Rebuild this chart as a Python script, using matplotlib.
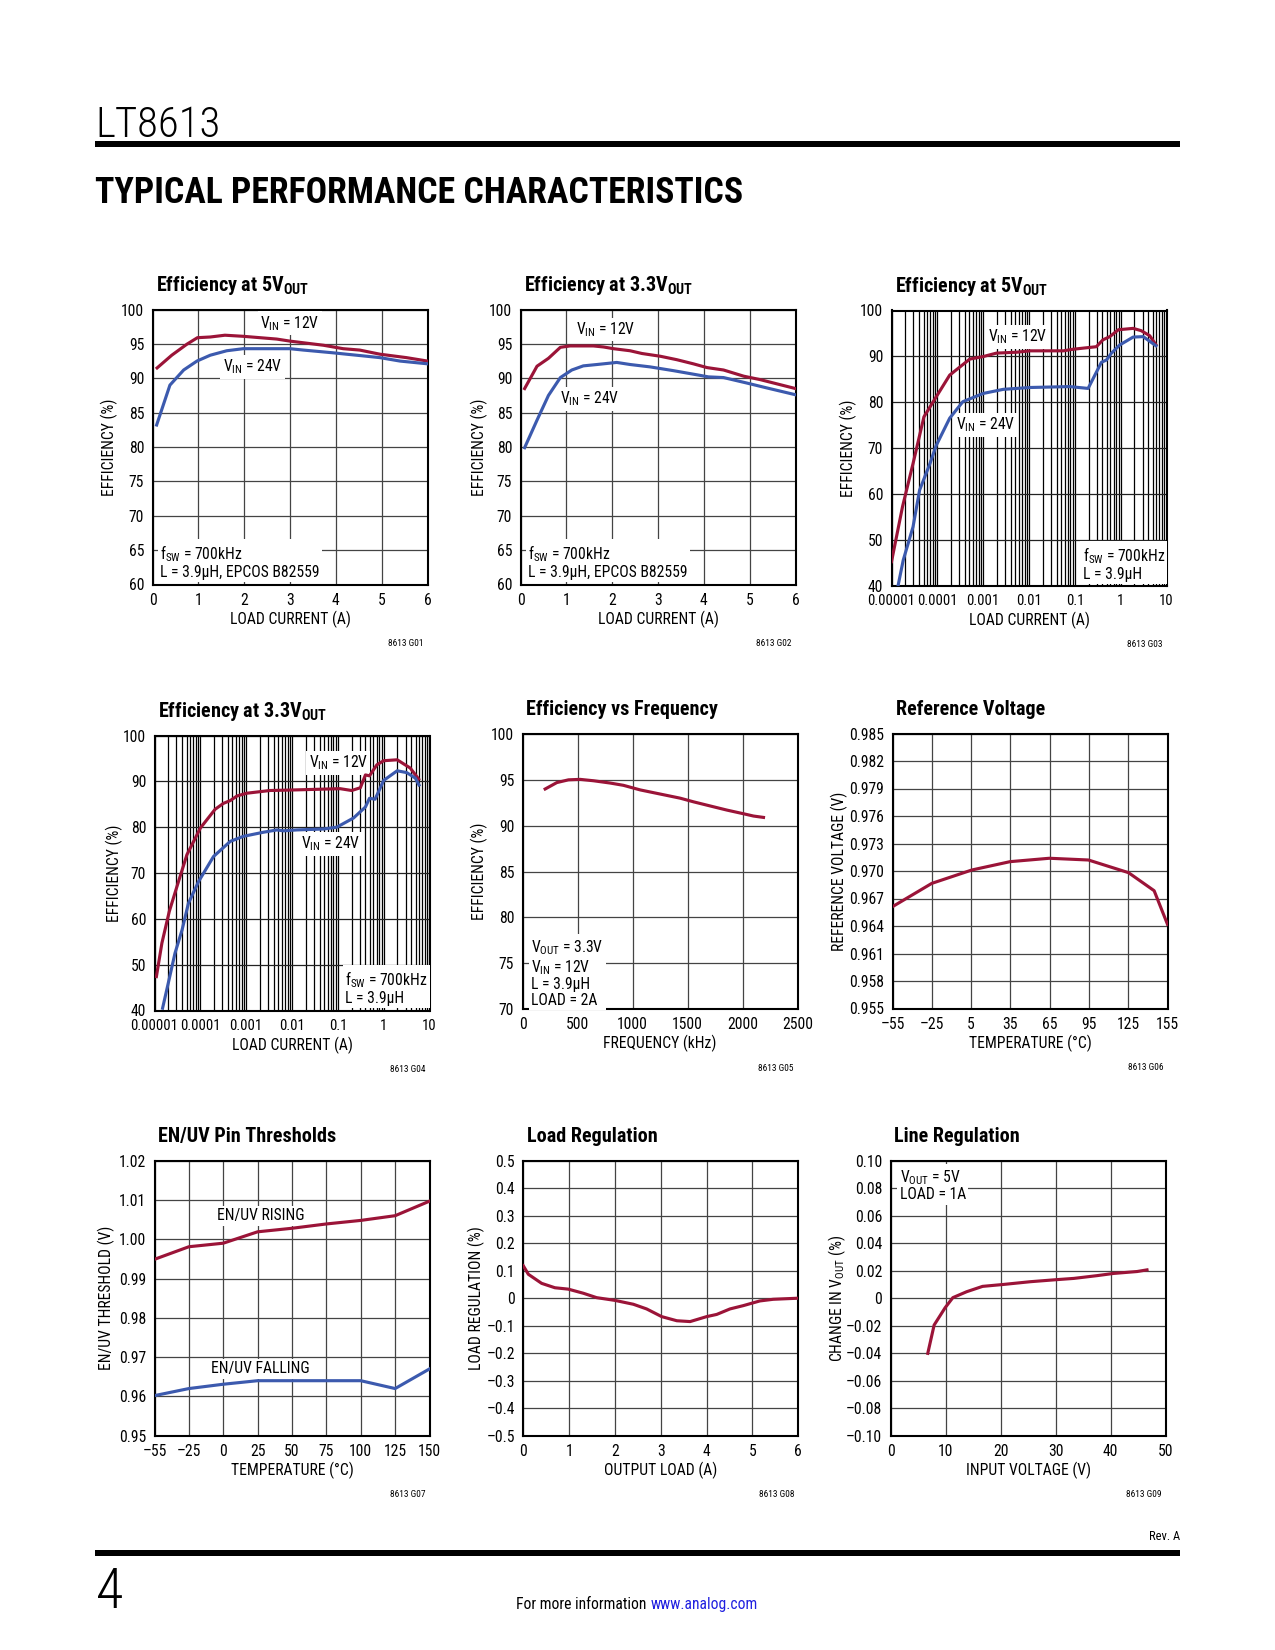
"""
LT8613 typical performance characteristics, pagina 4
"""

import numpy as np
import matplotlib
matplotlib.use('Agg')
import matplotlib.pyplot as plt
from matplotlib import font_manager
from matplotlib.patches import Rectangle
from matplotlib.ticker import LogLocator, NullFormatter

# font ingust (ca in foaia de catalog) daca exista, altfel Roboto
fonts = font_manager.fontManager.ttflist
names = {f.name for f in fonts}
FONT = 'Roboto'
STRETCH = 'normal'
SCALE = 0.9
for cand in ['Liberation Sans Narrow', 'Roboto Condensed', 'Open Sans Condensed',
             'Noto Sans Condensed', 'DejaVu Sans Condensed']:
    if cand in names:
        FONT, SCALE = cand, 1.0
        break
else:
    for f in fonts:
        if f.name in ('DejaVu Sans', 'Noto Sans', 'Open Sans', 'Roboto') and f.stretch == 'condensed':
            FONT, STRETCH, SCALE = f.name, 'condensed', 1.0
            break

plt.rcParams['font.family'] = [FONT, 'DejaVu Sans']
plt.rcParams['font.stretch'] = STRETCH
plt.rcParams['font.size'] = 7.5 * SCALE
plt.rcParams['axes.linewidth'] = 1.0
plt.rcParams['xtick.major.size'] = 0
plt.rcParams['ytick.major.size'] = 0
plt.rcParams['xtick.minor.size'] = 0
plt.rcParams['ytick.minor.size'] = 0
plt.rcParams['xtick.major.pad'] = 4
plt.rcParams['ytick.major.pad'] = 4

RED = '#9B1438'
BLUE = '#3C5AAE'
GRID = '#444444'

# G01 - eficienta la 5V iesire
g01_i_12 = [0.1, 0.42, 0.75, 0.98, 1.26, 1.58, 1.98, 2.71, 3.0, 3.73, 4.16, 4.52, 4.96, 5.54, 6.0]
g01_eff_12 = [91.5, 93.35, 94.95, 95.9, 96.0, 96.26, 96.1, 95.7, 95.4, 94.8, 94.3, 94.1, 93.5, 93.0, 92.5]
g01_i_24 = [0.09, 0.38, 0.68, 0.97, 1.26, 1.62, 1.98, 3.0, 3.29, 3.94, 4.23, 4.6, 4.96, 5.4, 6.0]
g01_eff_24 = [83.2, 89.0, 91.2, 92.5, 93.35, 94.0, 94.3, 94.3, 94.1, 93.7, 93.5, 93.25, 93.0, 92.5, 92.1]

# G02 - eficienta la 3.3V iesire
g02_i_12 = [0.09, 0.36, 0.61, 0.87, 1.08, 1.59, 1.81, 2.03, 2.39, 2.65, 3.05, 3.41, 3.77, 4.07, 4.43, 4.87, 5.23, 6.0]
g02_eff_12 = [88.5, 91.75, 92.9, 94.5, 94.7, 94.7, 94.55, 94.3, 94.0, 93.6, 93.2, 92.7, 92.1, 91.55, 91.2, 90.3, 89.8, 88.5]
g02_i_24 = [0.09, 0.36, 0.61, 0.87, 1.12, 1.37, 1.67, 2.1, 2.39, 2.83, 3.34, 3.85, 4.1, 4.43, 4.94, 5.37, 6.0]
g02_eff_24 = [79.9, 83.9, 87.5, 90.1, 91.2, 91.8, 92.0, 92.3, 92.0, 91.65, 91.1, 90.5, 90.2, 90.1, 89.3, 88.6, 87.6]

# G03 - eficienta la 5V, scala log
g03_i_12 = [1e-5, 1.74e-5, 2.95e-5, 5.1e-5, 9.5e-5, 1.86e-4, 5.1e-4, 1e-3, 1.95e-3, 5.4e-3, 0.0105,
            0.056, 0.092, 0.295, 0.41, 0.58, 0.89, 1.87, 2.8, 4.3, 5.9]
g03_eff_12 = [45.2, 57.2, 66.6, 76.8, 81.2, 85.9, 89.4, 89.95, 90.7, 90.9, 91.2,
              91.2, 91.55, 92.1, 93.6, 94.3, 95.8, 96.1, 95.6, 94.5, 92.5]
g03_i_24 = [1.4e-5, 1.8e-5, 2.95e-5, 4.1e-5, 6.9e-5, 9.5e-5, 1.86e-4, 3.6e-4, 1e-3, 2.75e-3, 0.0105,
            0.077, 0.195, 0.38, 0.49, 0.63, 0.96, 1.87, 3.1, 5.9]
g03_eff_24 = [40.1, 45.5, 52.8, 60.8, 66.6, 70.6, 76.5, 80.1, 81.9, 82.8, 83.2,
              83.4, 83.0, 88.7, 89.2, 90.7, 92.5, 94.2, 94.3, 92.3]

# G04 - eficienta la 3.3V, scala log
g04_i_12 = [1.1e-5, 1.45e-5, 2.1e-5, 3.1e-5, 5.1e-5, 1e-4, 2.1e-4, 3.2e-4, 4.5e-4, 6.3e-4, 1.02e-3,
            3.3e-3, 9.1e-3, 0.049, 0.112, 0.2, 0.31, 0.4, 0.49, 0.71, 1.0, 1.97, 3.8, 5.8]
g04_eff_12 = [47.4, 54.7, 61.6, 67.1, 74.0, 79.8, 83.9, 85.2, 85.8, 86.8, 87.4,
              88.0, 88.1, 88.3, 88.4, 88.0, 88.6, 91.4, 91.2, 93.6, 94.5, 94.7, 92.9, 90.5]
g04_i_24 = [1.5e-5, 2.0e-5, 2.8e-5, 4.0e-5, 5.5e-5, 9.1e-5, 1.94e-4, 4.5e-4, 8.7e-4, 2.4e-3, 4.7e-3,
            6.5e-3, 0.0128, 0.049, 0.095, 0.22, 0.4, 0.49, 0.65, 1.0, 1.97, 3.2, 4.9, 5.9]
g04_eff_24 = [40.5, 46.0, 52.5, 57.6, 63.4, 68.1, 73.6, 76.9, 78.0, 78.9, 79.4,
              79.2, 79.4, 79.6, 80.0, 82.0, 84.4, 86.3, 86.1, 90.2, 92.3, 91.9, 90.7, 89.2]

# G05 - eficienta vs frecventa
g05_f = [206, 312, 418, 524, 645, 797, 918, 1070, 1191, 1312, 1433, 1555, 1706, 1858, 2009, 2100, 2191]
g05_eff = [94.0, 94.7, 95.0, 95.05, 94.9, 94.65, 94.4, 93.9, 93.6, 93.3, 93.0, 92.6, 92.15, 91.7, 91.3, 91.05, 90.9]

# G06 - tensiune de referinta
g06_t = [-55, -25, 5.6, 34.8, 64.8, 94.6, 125.2, 144.8, 155]
g06_v = [0.96611, 0.96865, 0.97011, 0.97102, 0.97139, 0.97120, 0.96982, 0.96785, 0.96418]

# G07 - praguri EN/UV
g07_t = [-55, -25, 0, 25, 50, 75, 100, 125, 150]
g07_rise = [0.9949, 0.9981, 0.9990, 1.0019, 1.0028, 1.0039, 1.0048, 1.0060, 1.0097]
g07_fall = [0.9602, 0.9620, 0.9631, 0.9640, 0.9640, 0.9640, 0.9640, 0.9620, 0.9670]

# G08 - regulare sarcina
g08_i = [0.0, 0.11, 0.4, 0.69, 0.98, 1.31, 1.6, 2.0, 2.4, 2.69, 3.02, 3.35, 3.64, 4.0, 4.22, 4.51, 4.8, 5.16, 5.45, 6.0]
g08_reg = [0.118, 0.087, 0.054, 0.038, 0.033, 0.018, 0.002, -0.008, -0.022, -0.039, -0.067, -0.082,
           -0.085, -0.067, -0.059, -0.039, -0.027, -0.010, -0.004, 0.0]

# G09 - regulare linie
g09_vin = [6.74, 7.9, 9.9, 11.3, 13.8, 16.7, 20.5, 25.4, 30.2, 33.3, 37.5, 40.5, 44.8, 46.6]
g09_dv = [-0.0401, -0.0195, -0.0069, 0.0004, 0.0047, 0.0086, 0.0100, 0.0120, 0.0135, 0.0144,
          0.0164, 0.0180, 0.0194, 0.0206]

# etichete axe
eff_ticks = [60, 65, 70, 75, 80, 85, 90, 95, 100]
lin_i_ticks = [0, 1, 2, 3, 4, 5, 6]
log_i_ticks = [1e-5, 1e-4, 1e-3, 1e-2, 1e-1, 1, 10]
log_i_labels = ['0.00001', '0.0001', '0.001', '0.01', '0.1', '1', '10']
log_eff_ticks = [40, 50, 60, 70, 80, 90, 100]
freq_ticks = [0, 500, 1000, 1500, 2000, 2500]
freq_eff_ticks = [70, 75, 80, 85, 90, 95, 100]
ref_t_ticks = [-55, -25, 5, 35, 65, 95, 125, 155]
ref_t_labels = ['–55', '–25', '5', '35', '65', '95', '125', '155']
ref_v_ticks = [0.955, 0.958, 0.961, 0.964, 0.967, 0.970, 0.973, 0.976, 0.979, 0.982, 0.985]
en_t_labels = ['–55', '–25', '0', '25', '50', '75', '100', '125', '150']
en_v_ticks = [0.95, 0.96, 0.97, 0.98, 0.99, 1.00, 1.01, 1.02]
en_v_labels = ['0.95', '0.96', '0.97', '0.98', '0.99', '1.00', '1.01', '1.02']
load_ticks = [-0.5, -0.4, -0.3, -0.2, -0.1, 0, 0.1, 0.2, 0.3, 0.4, 0.5]
load_labels = ['–0.5', '–0.4', '–0.3', '–0.2', '–0.1', '0', '0.1', '0.2', '0.3', '0.4', '0.5']
line_x_ticks = [0, 10, 20, 30, 40, 50]
line_ticks = [-0.10, -0.08, -0.06, -0.04, -0.02, 0, 0.02, 0.04, 0.06, 0.08, 0.10]
line_labels = ['–0.10', '–0.08', '–0.06', '–0.04', '–0.02', '0', '0.02', '0.04', '0.06', '0.08', '0.10']

W, H = 1275, 1650
fig = plt.figure(figsize=(W / 150, H / 150), dpi=150)

VIN12 = 'V$_{\\mathregular{IN}}$ = 12V'
VIN24 = 'V$_{\\mathregular{IN}}$ = 24V'
FSW = 'f$_{\\mathregular{SW}}$ = 700kHz'
TITLE_SIZE = 9.7 * SCALE


def panel(left, top, title, xlabel, ylabel, fig_id, ylab_x):
    ax = fig.add_axes([left / W, 1 - (top + 275) / H, 275 / W, 275 / H])
    ax.text(0.013, 1.068, title, transform=ax.transAxes, fontsize=TITLE_SIZE,
            fontweight='bold', va='baseline', ha='left')
    ax.set_xlabel(xlabel)
    ax.xaxis.set_label_coords(0.5, -0.095)
    ax.set_ylabel(ylabel)
    ax.yaxis.set_label_coords(ylab_x, 0.5)
    ax.text(0.985, -0.215, fig_id, transform=ax.transAxes, fontsize=4.5 * SCALE,
            ha='right', va='center')
    ax.set_axisbelow(True)
    return ax


def note(ax, x, y, s, va='center'):
    ax.text(x, y, s, ha='left', va=va, zorder=3, linespacing=1.05,
            bbox=dict(fc='white', ec='none', pad=1.2))


def curve(ax, x, y, color):
    ax.plot(x, y, color=color, lw=1.5, zorder=4, solid_joinstyle='round')


def grid_lin(ax):
    ax.grid(True, color=GRID, lw=0.6)


# --- G01 ---
ax = panel(152.5, 309.5, 'Efficiency at 5V$_{\\mathregular{OUT}}$', 'LOAD CURRENT (A)',
           'EFFICIENCY (%)', '8613 G01', -0.124)
curve(ax, g01_i_12, g01_eff_12, RED)
curve(ax, g01_i_24, g01_eff_24, BLUE)
ax.set_xlim(0, 6)
ax.set_ylim(60, 100)
ax.set_xticks(lin_i_ticks)
ax.set_yticks(eff_ticks)
grid_lin(ax)
note(ax, 2.35, 98.0, VIN12)
note(ax, 1.53, 91.65, VIN24)
note(ax, 0.17, 63.3, FSW + '\nL = 3.9µH, EPCOS B82559')

# --- G02 ---
ax = panel(520.5, 309.5, 'Efficiency at 3.3V$_{\\mathregular{OUT}}$', 'LOAD CURRENT (A)',
           'EFFICIENCY (%)', '8613 G02', -0.12)
curve(ax, g02_i_12, g02_eff_12, RED)
curve(ax, g02_i_24, g02_eff_24, BLUE)
ax.set_xlim(0, 6)
ax.set_ylim(60, 100)
ax.set_xticks(lin_i_ticks)
ax.set_yticks(eff_ticks)
grid_lin(ax)
note(ax, 1.21, 97.1, VIN12)
note(ax, 0.87, 87.0, VIN24)
note(ax, 0.17, 63.3, FSW + '\nL = 3.9µH, EPCOS B82559')


def log_setup(ax):
    ax.set_xscale('log')
    ax.set_xlim(1e-5, 10)
    ax.set_ylim(40, 100)
    ax.set_xticks(log_i_ticks, labels=log_i_labels)
    ax.tick_params(axis='x', labelsize=7.0 * SCALE)
    ax.xaxis.set_minor_locator(LogLocator(base=10, subs=range(2, 10), numticks=20))
    ax.xaxis.set_minor_formatter(NullFormatter())
    ax.set_yticks(log_eff_ticks)
    ax.grid(True, which='both', axis='x', color='black', lw=0.6)
    ax.grid(True, which='major', axis='y', color='#222222', lw=0.6)


# --- G03 ---
ax = panel(891.5, 310.5, 'Efficiency at 5V$_{\\mathregular{OUT}}$', 'LOAD CURRENT (A)',
           'EFFICIENCY (%)', '8613 G03', -0.124)
curve(ax, g03_i_12, g03_eff_12, RED)
curve(ax, g03_i_24, g03_eff_24, BLUE)
log_setup(ax)
note(ax, 1.29e-3, 94.2, VIN12)
note(ax, 2.5e-4, 75.0, VIN24)
note(ax, 0.148, 44.8, FSW + '\nL = 3.9µH')

# --- G04 ---
ax = panel(154.5, 735.5, 'Efficiency at 3.3V$_{\\mathregular{OUT}}$', 'LOAD CURRENT (A)',
           'EFFICIENCY (%)', '8613 G04', -0.116)
curve(ax, g04_i_12, g04_eff_12, RED)
curve(ax, g04_i_24, g04_eff_24, BLUE)
log_setup(ax)
note(ax, 0.023, 94.0, VIN12)
note(ax, 0.0158, 76.3, VIN24)
note(ax, 0.145, 45.0, FSW + '\nL = 3.9µH')

# --- G05 ---
ax = panel(522.5, 734.0, 'Efficiency vs Frequency', 'FREQUENCY (kHz)',
           'EFFICIENCY (%)', '8613 G05', -0.124)
curve(ax, g05_f, g05_eff, RED)
ax.set_xlim(0, 2500)
ax.set_ylim(70, 100)
ax.set_xticks(freq_ticks)
ax.set_yticks(freq_eff_ticks)
grid_lin(ax)
note(ax, 79, 73.9, 'V$_{\\mathregular{OUT}}$ = 3.3V\n' + VIN12 + '\nL = 3.9µH\nLOAD = 2A')

# --- G06 ---
ax = panel(892.5, 733.5, 'Reference Voltage', 'TEMPERATURE (°C)',
           'REFERENCE VOLTAGE (V)', '8613 G06', -0.16)
curve(ax, g06_t, g06_v, RED)
ax.set_xlim(-55, 155)
ax.set_ylim(0.955, 0.985)
ax.set_xticks(ref_t_ticks, labels=ref_t_labels)
ax.set_yticks(ref_v_ticks, labels=['%.3f' % v for v in ref_v_ticks])
grid_lin(ax)

# --- G07 ---
# axa x are gradatii egal distantate (-55, -25, 0, 25 ...), deci scala pe segmente
en_pos = np.arange(len(g07_t), dtype=float)


def en_fwd(x):
    return np.interp(x, g07_t, en_pos)


def en_inv(x):
    return np.interp(x, en_pos, g07_t)


ax = panel(154.5, 1160.7, 'EN/UV Pin Thresholds', 'TEMPERATURE (°C)',
           'EN/UV THRESHOLD (V)', '8613 G07', -0.142)
ax.set_xscale('function', functions=(en_fwd, en_inv))
curve(ax, g07_t, g07_rise, RED)
curve(ax, g07_t, g07_fall, BLUE)
ax.set_xlim(-55, 150)
ax.set_ylim(0.95, 1.02)
ax.set_xticks(g07_t, labels=en_t_labels)
ax.xaxis.set_minor_locator(plt.NullLocator())
ax.set_yticks(en_v_ticks, labels=en_v_labels)
grid_lin(ax)
note(ax, -4.75, 1.006, 'EN/UV RISING')
note(ax, -9.0, 0.967, 'EN/UV FALLING')

# --- G08 ---
ax = panel(523.3, 1160.7, 'Load Regulation', 'OUTPUT LOAD (A)',
           'LOAD REGULATION (%)', '8613 G08', -0.138)
curve(ax, g08_i, g08_reg, RED)
ax.set_xlim(0, 6)
ax.set_ylim(-0.5, 0.5)
ax.set_xticks(lin_i_ticks)
ax.set_yticks(load_ticks, labels=load_labels)
grid_lin(ax)

# --- G09 ---
ax = panel(890.7, 1160.7, 'Line Regulation', 'INPUT VOLTAGE (V)',
           'CHANGE IN V$_{\\mathregular{OUT}}$ (%)', '8613 G09', -0.156)
curve(ax, g09_vin, g09_dv, RED)
ax.set_xlim(0, 50)
ax.set_ylim(-0.10, 0.10)
ax.set_xticks(line_x_ticks)
ax.set_yticks(line_ticks, labels=line_labels)
grid_lin(ax)
note(ax, 1.6, 0.0823, 'V$_{\\mathregular{OUT}}$ = 5V\nLOAD = 1A')

# --- antet si subsol pagina ---
fig.text(95 / W, 1 - 137 / H, 'LT8613', fontsize=20.5 * SCALE, fontweight='light',
         va='baseline', ha='left')
fig.add_artist(Rectangle((95 / W, 1 - 147 / H), 1085 / W, 6 / H,
                         transform=fig.transFigure, color='black', lw=0))
fig.text(95 / W, 1 - 203 / H, 'TYPICAL PERFORMANCE CHARACTERISTICS', fontsize=17.2 * SCALE,
         fontweight='heavy', va='baseline', ha='left')
fig.text(1180 / W, 1 - 1540 / H, 'Rev. A', fontsize=6 * SCALE, ha='right', va='baseline')
fig.add_artist(Rectangle((95 / W, 1 - 1556 / H), 1085 / W, 6 / H,
                         transform=fig.transFigure, color='black', lw=0))
fig.text(96 / W, 1 - 1608 / H, '4', fontsize=27, fontweight='light', ha='left', va='baseline')
fig.text(650 / W, 1 - 1609 / H, 'For more information ', fontsize=7.5 * SCALE,
         ha='right', va='baseline')
fig.text(651 / W, 1 - 1609 / H, 'www.analog.com', fontsize=7.5 * SCALE, ha='left',
         va='baseline', color='#2020e0')

fig.savefig('out.png', dpi=150)
